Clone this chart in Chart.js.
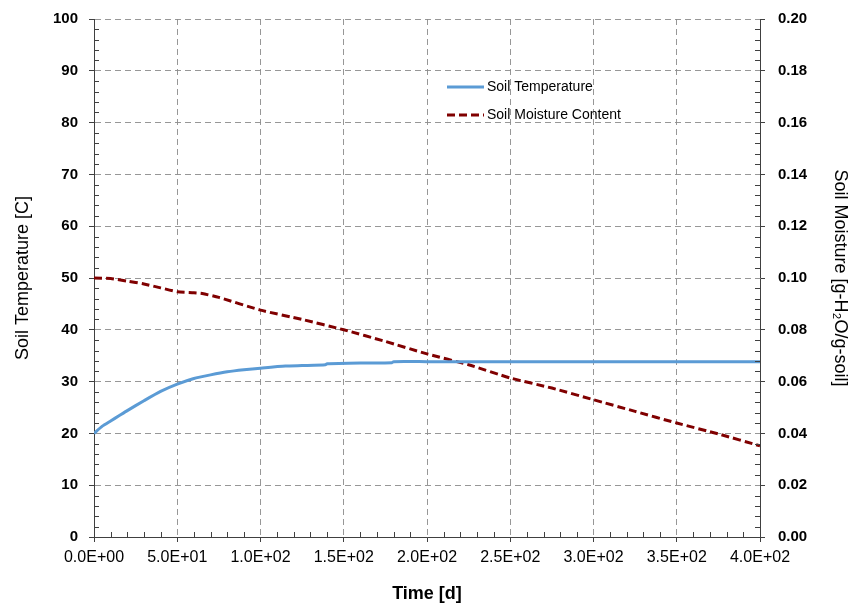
<!DOCTYPE html>
<html>
<head>
<meta charset="utf-8">
<script src="https://cdn.jsdelivr.net/npm/chart.js@4"></script>
<style>
  html, body { margin: 0; padding: 0; background: #fff; }
  #wrap { width: 851px; height: 605px; position: relative; }
</style>
</head>
<body>
<div id="wrap"><canvas id="c" width="851" height="605"></canvas></div>
<script>
// ---- Data ----
const tempTime = [0, 5, 10, 15, 20, 30, 40, 50, 60, 70, 80, 90, 100, 115, 125, 139, 140, 160, 179, 180, 200, 250, 300, 350, 400];
const tempValues = [20, 21.4, 22.4, 23.4, 24.4, 26.3, 28.1, 29.5, 30.6, 31.3, 31.9, 32.3, 32.6, 33.0, 33.1, 33.25, 33.45, 33.6, 33.65, 33.85, 33.85, 33.85, 33.85, 33.85, 33.85];

const moistTime = [0, 10, 20, 30, 40, 50, 60, 65, 75, 100, 125, 150, 175, 200, 225, 250, 275, 300, 325, 350, 375, 400];
const moistValues = [0.1, 0.0998, 0.0988, 0.0977, 0.0962, 0.0947, 0.0943, 0.0940, 0.0925, 0.0876, 0.0840, 0.0800, 0.0755, 0.0707, 0.0665, 0.0614, 0.0575, 0.0530, 0.0485, 0.0440, 0.0398, 0.0352];

const seriesLabels = ['Soil Temperature', 'Soil Moisture Content'];
const xTitle = 'Time [d]';
const yLeftTitle = 'Soil Temperature [C]';
const yRightTitle = 'Soil Moisture [g-H\u2082O/g-soil]';

const FONT = "'Liberation Sans', Arial, sans-serif";
const BLUE = 'rgb(91,155,213)';
const RED = 'rgb(128,0,0)';

const tempData = tempTime.map((t, i) => ({ x: t, y: tempValues[i] }));
const moistData = moistTime.map((t, i) => ({ x: t, y: moistValues[i] }));

// Minor tick marks (inside plot) + in-plot legend
const extras = {
  id: 'extras',
  afterDraw(chart) {
    const ctx = chart.ctx;
    const a = chart.chartArea;
    const sx = chart.scales.x, yl = chart.scales.y, yr = chart.scales.y2;
    ctx.save();
    ctx.strokeStyle = '#404040';
    ctx.lineWidth = 1;
    ctx.beginPath();
    for (let v = 0; v <= 100; v += 2) {
      if (v % 10 === 0) continue;
      const p = Math.round(yl.getPixelForValue(v)) + 0.5;
      ctx.moveTo(a.left, p); ctx.lineTo(a.left + 5, p);
    }
    for (let k = 0; k <= 50; k++) {
      if (k % 5 === 0) continue;
      const p = Math.round(yr.getPixelForValue(k * 0.004)) + 0.5;
      ctx.moveTo(a.right, p); ctx.lineTo(a.right - 5, p);
    }
    for (let v = 0; v <= 400; v += 10) {
      if (v % 50 === 0) continue;
      const p = Math.round(sx.getPixelForValue(v)) + 0.5;
      ctx.moveTo(p, a.bottom); ctx.lineTo(p, a.bottom - 5);
    }
    ctx.stroke();

    // legend
    const lx = 447, ly = 87, gap = 28;
    chart.data.datasets.forEach((ds, i) => {
      const y = ly + i * gap;
      ctx.beginPath();
      ctx.strokeStyle = ds.borderColor;
      ctx.lineWidth = 3;
      ctx.setLineDash(ds.borderDash || []);
      ctx.moveTo(lx, y); ctx.lineTo(lx + 37, y);
      ctx.stroke();
      ctx.setLineDash([]);
      ctx.fillStyle = '#000';
      ctx.font = "14px " + FONT;
      ctx.textBaseline = 'middle';
      ctx.textAlign = 'left';
      ctx.fillText(ds.label, lx + 40, y);
    });
    ctx.restore();
  }
};

const gridCommon = {
  color: 'rgba(140,140,140,0.9)',
  lineWidth: 1,
  tickLength: 5,
  tickColor: '#404040',
  drawTicks: true
};

new Chart(document.getElementById('c'), {
  type: 'line',
  data: {
    datasets: [
      { label: seriesLabels[0], data: tempData, yAxisID: 'y', borderColor: BLUE, backgroundColor: BLUE,
        borderWidth: 3, pointRadius: 0, tension: 0.2, fill: false },
      { label: seriesLabels[1], data: moistData, yAxisID: 'y2', borderColor: RED, backgroundColor: RED,
        borderWidth: 3, borderDash: [8, 4], pointRadius: 0, tension: 0.2, fill: false }
    ]
  },
  options: {
    responsive: false,
    animation: false,
    layout: { padding: { top: 19, left: 0, right: 0, bottom: 0 } },
    plugins: { legend: { display: false }, tooltip: { enabled: false } },
    scales: {
      x: {
        type: 'linear', min: 0, max: 400,
        ticks: { stepSize: 50, color: '#000', font: { family: FONT, size: 16 }, padding: 6,
                 maxRotation: 0, callback: v => Number(v).toExponential(1).replace(/e\+?(-?)(\d)$/, 'E+$10$2').replace('E+-', 'E-') },
        grid: Object.assign({}, gridCommon, { borderDash: [6, 4] }),
        border: { display: true, color: '#404040', width: 1, dash: [6, 4] },
        title: { display: true, text: xTitle, color: '#000', font: { family: FONT, size: 18, weight: 'bold' }, padding: { top: 6, bottom: 0 } },
        afterFit: s => { s.height = 68; s.paddingLeft = 0; s.paddingRight = 0; }
      },
      y: {
        type: 'linear', position: 'left', min: 0, max: 100,
        ticks: { stepSize: 10, color: '#000', font: { family: FONT, size: 15, weight: 'bold' }, padding: 11 },
        grid: gridCommon,
        border: { display: true, color: '#404040', width: 1, dash: [6, 4] },
        title: { display: true, text: yLeftTitle, color: '#000', font: { family: FONT, size: 18 }, padding: { top: 12, bottom: 4 } },
        afterFit: s => { s.width = 94; s.paddingTop = 0; s.paddingBottom = 0; }
      },
      y2: {
        type: 'linear', position: 'right', min: 0, max: 0.2,
        ticks: { stepSize: 0.02, color: '#000', font: { family: FONT, size: 15, weight: 'bold' }, padding: 13,
                 callback: v => Number(v).toFixed(2) },
        grid: { drawOnChartArea: false, tickLength: 5, tickColor: '#404040' },
        border: { display: true, color: '#404040', width: 1 },
        title: { display: true, text: yRightTitle, color: '#000', font: { family: FONT, size: 18 }, padding: { top: 0, bottom: 4 } },
        afterFit: s => { s.width = 91; s.paddingTop = 0; s.paddingBottom = 0; }
      }
    }
  },
  plugins: [extras]
});
</script>
</body>
</html>
